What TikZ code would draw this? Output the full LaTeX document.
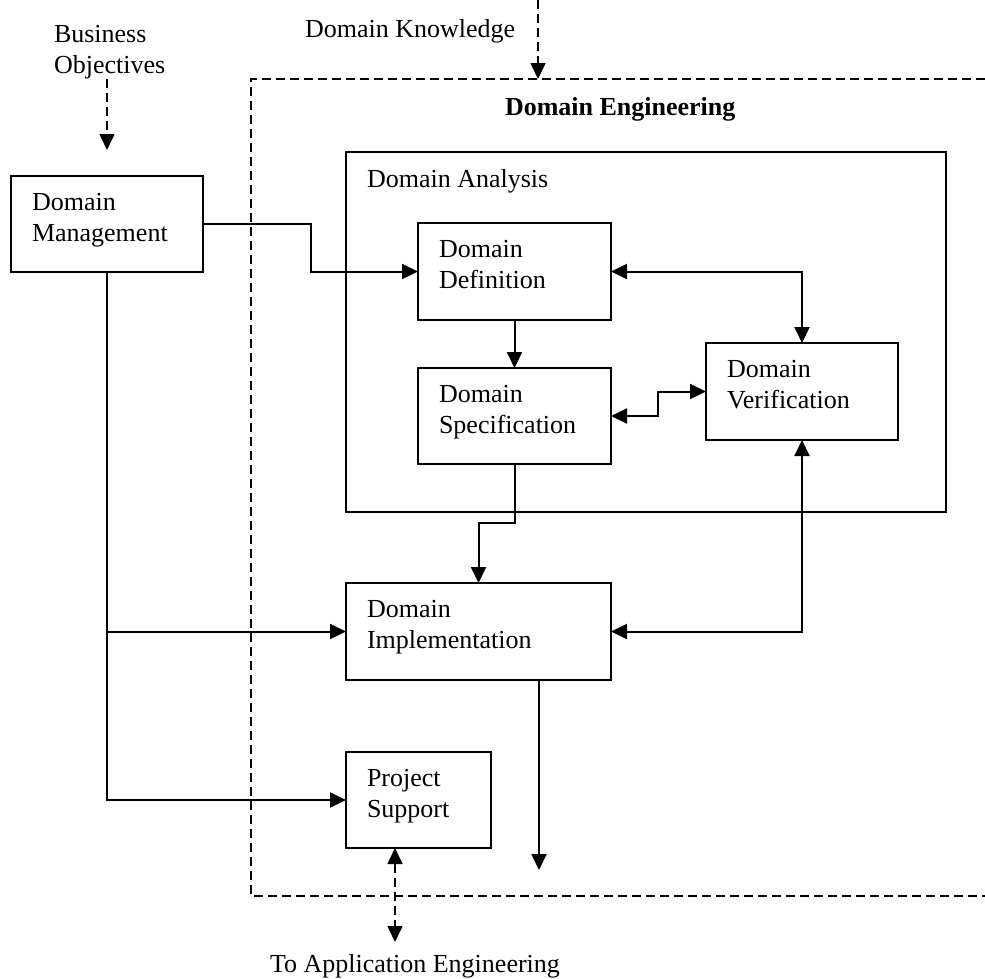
\documentclass[tikz,border=0pt]{standalone}
\usepackage{fontspec}
\setmainfont{Liberation Serif}
\usetikzlibrary{arrows.meta}
\begin{document}
\begin{tikzpicture}[x=1pt,y=-1pt,
  every node/.style={inner sep=0pt, outer sep=0pt, font=\fontsize{26}{31}\selectfont},
  box/.style={draw, line width=2pt, anchor=north west},
  lbl/.style={anchor=north west, align=left},
  conn/.style={line width=2pt},
  arr/.style={conn, -{Triangle[length=16pt,width=15pt]}},
  both/.style={conn, {Triangle[length=16pt,width=15pt]}-{Triangle[length=16pt,width=15pt]}},
  dline/.style={line width=1.6pt, dash pattern=on 9pt off 5pt},
  darr/.style={dline, -{Triangle[length=16pt,width=15pt]}},
  dboth/.style={dline, {Triangle[length=16pt,width=15pt]}-{Triangle[length=16pt,width=15pt]}}]
\useasboundingbox (0,0) rectangle (985,978);

% outside inputs and the open domain engineering frame
\node[anchor=base west] (dk) at (305,37) {Domain Knowledge};
\node[lbl] (bo) at (54,25.4) {Business\\Objectives};
\node[anchor=base west] (app) at (270,972) {To Application Engineering};
\draw[dline] (985,79) -- (251,79) -- (251,896) -- (985,896);
\node[anchor=base west, font=\fontsize{26}{31}\selectfont\bfseries] (de) at (505,115) {Domain Engineering};

% boxes
\node[box, minimum width=192pt, minimum height=96pt] (mgmt) at (11,176) {};
\node[box, minimum width=600pt, minimum height=360pt] (ana) at (346,152) {};
\node[box, minimum width=193pt, minimum height=97pt] (def) at (418,223) {};
\node[box, minimum width=193pt, minimum height=96pt] (spec) at (418,368) {};
\node[box, minimum width=192pt, minimum height=97pt] (verif) at (706,343) {};
\node[box, minimum width=265pt, minimum height=97pt] (impl) at (346,583) {};
\node[box, minimum width=145pt, minimum height=96pt] (ps) at (346,752) {};

% box texts
\node[lbl] (mgmtl) at ([shift={(21,17.4)}]mgmt.north west) {Domain\\Management};
\node[anchor=base west] (anal) at ([shift={(21,35)}]ana.north west) {Domain Analysis};
\node[lbl] (defl) at ([shift={(21,17.4)}]def.north west) {Domain\\Definition};
\node[lbl] (specl) at ([shift={(21,17.4)}]spec.north west) {Domain\\Specification};
\node[lbl] (verifl) at ([shift={(21,17.4)}]verif.north west) {Domain\\Verification};
\node[lbl] (impll) at ([shift={(21,17.4)}]impl.north west) {Domain\\Implementation};
\node[lbl] (psl) at ([shift={(21,17.4)}]ps.north west) {Project\\Support};

% solid connectors
\draw[arr] (mgmt.east) -- ++(108,0) |- (def.west);
\draw[arr] (def.south) -- (spec.north);
\draw[both] (def.east) -| (verif.north);
\draw[both] (spec.east) -- ++(47,0) |- (verif.west);
\draw[arr] (spec.south) -- ++(0,59) -| (impl.north);
\draw[both] (impl.east) -| (verif.south);
\draw[arr] (mgmt.south) |- (impl.west);
\draw[arr] (mgmt.south) |- (ps.west);
\coordinate (implout) at (539,870);
\draw[arr] (impl.south -| implout) -- (implout);

% dashed connectors
\coordinate (dktop) at (538,0);
\coordinate (dkend) at (538,79);
\draw[darr] (dktop) -- (dkend);
\coordinate (botip) at (107,150);
\draw[darr] (bo.south -| botip) -- (botip);
\coordinate (apptip) at (395,942);
\draw[dboth] (ps.south -| apptip) -- (apptip);
\end{tikzpicture}
\end{document}
